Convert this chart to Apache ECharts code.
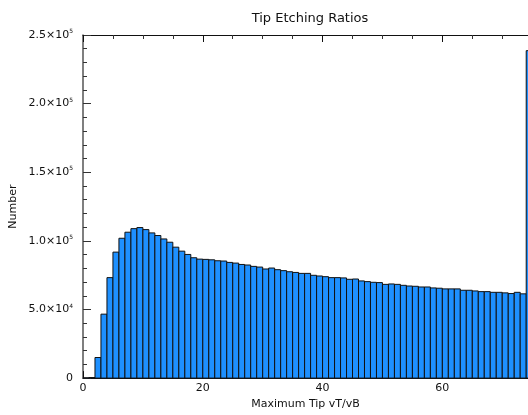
<!DOCTYPE html>
<html>
<head>
<meta charset="utf-8">
<script src="https://cdn.jsdelivr.net/npm/echarts@6/dist/echarts.min.js"></script>
<style>html,body{margin:0;padding:0;background:#fff}#c{width:528px;height:415px}</style>
</head>
<body>
<div id="c"></div>
<script>
// Bin left edges (bin width 1)
const binStarts = [0,1,2,3,4,5,6,7,8,9,10,11,12,13,14,15,16,17,18,19,20,21,22,23,24,25,26,27,28,29,30,31,32,33,34,35,36,37,38,39,40,41,42,43,44,45,46,47,48,49,50,51,52,53,54,55,56,57,58,59,60,61,62,63,64,65,66,67,68,69,70,71,72,73,74];
// Counts per bin
const counts = [200,400,15000,46600,73200,91800,101900,106300,108900,109700,108200,105800,103900,101400,99000,95400,92500,90100,87700,86700,86500,86200,85500,85300,84300,83800,82800,82400,81400,80900,79500,80200,79000,78300,77500,77000,76300,76300,74900,74400,73900,73200,73200,73000,72000,72200,70800,70300,69800,69600,68300,68600,68300,67600,67100,66900,66400,66400,65700,65500,65000,65000,65000,64000,64000,63500,63000,63000,62500,62500,62100,61600,62500,61400,238600];
const xTickLabels = ['0','20','40','60'];
const yTickLabels = ['0','5.0×10{s|4}','1.0×10{s|5}','1.5×10{s|5}','2.0×10{s|5}','2.5×10{s|5}'];

const FONT = 'DejaVu Sans';
const chart = echarts.init(document.getElementById('c'), null, {renderer:'canvas'});
const data = binStarts.map((b,i)=>[b, counts[i]]);

chart.setOption({
  animation:false,
  backgroundColor:'#fff',
  title:{text:'Tip Etching Ratios', left:305, top:7, textAlign:'center',
    textStyle:{fontFamily:FONT, fontSize:13, fontWeight:'normal', color:'#111'}},
  grid:{left:82, right:0, top:35, bottom:35},
  xAxis:[{
    type:'value', min:0, max:74.3, interval:20,
    name:'Maximum Tip vT/vB', nameLocation:'middle', nameGap:19,
    nameTextStyle:{fontFamily:FONT, fontSize:11, color:'#111'},
    axisLine:{show:true, lineStyle:{color:'#111', width:1}},
    axisTick:{show:true, inside:true, length:7, lineStyle:{color:'#111'}},
    minorTick:{show:true, splitNumber:4, length:4, lineStyle:{color:'#333'}},
    splitLine:{show:false},
    axisLabel:{fontFamily:FONT, fontSize:11, color:'#111', margin:5, showMaxLabel:false,
      formatter:(v)=>{const i=Math.round(v/20); return xTickLabels[i]!==undefined?xTickLabels[i]:'';}}
  },{
    type:'value', position:'top', min:0, max:74.3, interval:20,
    axisLine:{show:true, lineStyle:{color:'#111', width:1}},
    axisTick:{show:true, inside:true, length:7, lineStyle:{color:'#111'}},
    minorTick:{show:true, splitNumber:4, length:4, lineStyle:{color:'#333'}},
    splitLine:{show:false}, axisLabel:{show:false}
  }],
  yAxis:{
    type:'value', min:0, max:250000, interval:50000,
    name:'Number', nameLocation:'middle', nameGap:64, nameRotate:90, nameMoveOverlap:false,
    nameTextStyle:{fontFamily:FONT, fontSize:11, color:'#111'},
    axisLine:{show:true, lineStyle:{color:'#555', width:1.5}},
    axisTick:{show:true, inside:true, length:8, lineStyle:{color:'#333'}},
    minorTick:{show:true, splitNumber:5, length:4, lineStyle:{color:'#333'}},
    splitLine:{show:false},
    axisLabel:{fontFamily:FONT, fontSize:11, color:'#111', margin:10,
      formatter:(v)=>{const i=Math.round(v/50000); return yTickLabels[i]||'';},
      rich:{s:{fontFamily:FONT, fontSize:6, color:'#111', padding:[0,0,7,0]}}}
  },
  series:[{
    type:'custom',
    xAxisIndex:0,
    data:data,
    renderItem:(params, api)=>{
      const x = api.value(0), y = api.value(1);
      const p0 = api.coord([x, 0]);
      const p1 = api.coord([x+1, y]);
      const cs = params.coordSys;
      const rect = echarts.graphic.clipRectByRect(
        {x:p0[0], y:p1[1], width:p1[0]-p0[0], height:p0[1]-p1[1]},
        {x:cs.x, y:cs.y, width:cs.width+2, height:cs.height});
      if(!rect) return null;
      return {type:'rect', shape:rect,
        style:{fill:'#1E90FF', stroke:'#111', lineWidth:1}};
    }
  }]
});
</script>
</body>
</html>
